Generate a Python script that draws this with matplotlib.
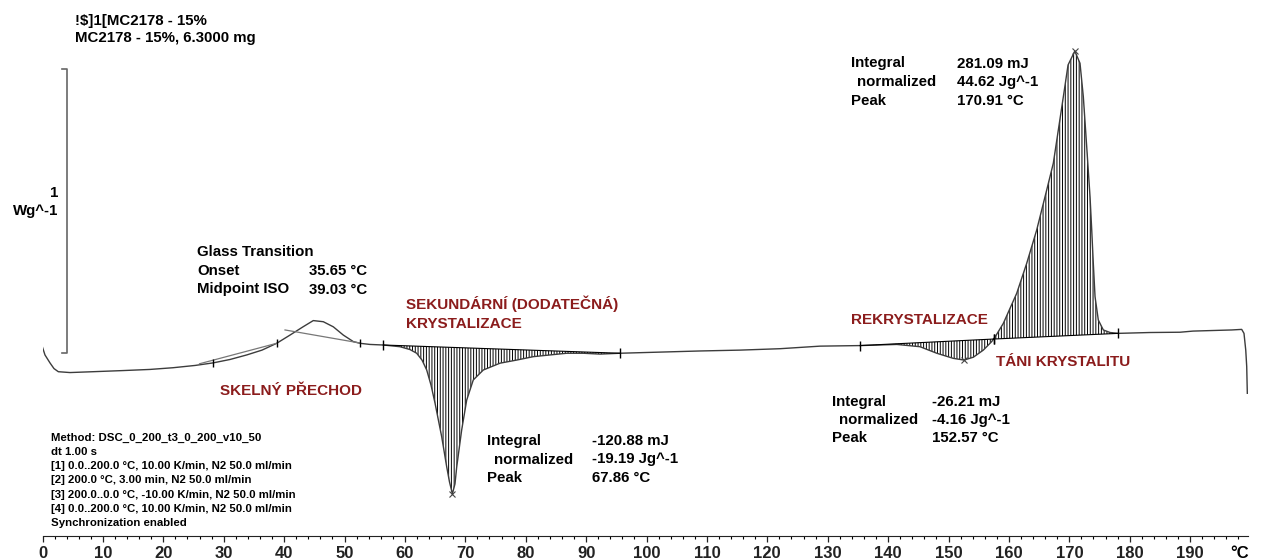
import matplotlib
matplotlib.use("Agg")
import matplotlib.pyplot as plt
import numpy as np

plt.rcParams["font.family"] = ["Liberation Sans", "DejaVu Sans"]
plt.rcParams["font.weight"] = "bold"
plt.rcParams["hatch.linewidth"] = 0.7

W, H = 1270, 560
DARK_RED = "#8b1c1c"
CURVE = "#3c3c3c"

# DSC curve, temperature in degC and heat flow in W/g (arbitrary offset)
temp = [0.0, 0.41, 1.24, 1.90, 2.62, 4.55, 8.36, 13.33, 17.80, 21.61, 25.25, 28.23,
        31.04, 33.81, 36.34, 38.77, 40.98, 43.13, 44.83, 46.49, 48.15, 49.80, 51.46,
        52.57, 54.22, 56.42, 59.19, 60.84, 61.95, 62.83, 63.61, 64.32, 64.98, 66.09,
        66.92, 67.38, 67.86, 68.29, 68.58, 69.40, 70.23, 71.32, 72.98, 75.75, 78.51,
        81.26, 84.02, 86.79, 89.54, 92.30, 95.61, 102.24, 108.86, 115.48, 122.11,
        128.73, 135.35, 141.44, 145.28, 148.05, 150.79, 152.57, 154.11, 155.76, 157.15,
        157.45, 157.70, 159.07, 161.29, 162.95, 164.60, 166.26, 167.35, 169.01, 169.79,
        170.91, 171.77, 172.32, 172.88, 173.43, 173.71, 173.97, 174.26, 174.80, 175.63,
        176.74, 178.11, 183.36, 188.33, 190.48, 196.89, 198.54, 198.92, 199.21, 199.37,
        199.47]
heat_flow = [-0.008, -0.035, -0.063, -0.083, -0.094, -0.097, -0.094, -0.090, -0.086,
             -0.080, -0.072, -0.063, -0.051, -0.035, -0.018, 0.006, 0.035, 0.064, 0.086,
             0.082, 0.064, 0.035, 0.012, 0.006, 0.002, 0.000, -0.006, -0.016, -0.029,
             -0.053, -0.088, -0.141, -0.204, -0.323, -0.429, -0.482, -0.524, -0.489,
             -0.429, -0.299, -0.194, -0.123, -0.088, -0.064, -0.053, -0.041, -0.035,
             -0.029, -0.029, -0.032, -0.029, -0.025, -0.021, -0.018, -0.013, -0.004,
             -0.002, 0.002, -0.006, -0.029, -0.047, -0.053, -0.043, -0.018, 0.012, 0.021,
             0.028, 0.076, 0.182, 0.288, 0.405, 0.546, 0.640, 0.874, 0.986, 1.035, 0.992,
             0.874, 0.698, 0.522, 0.405, 0.288, 0.170, 0.088, 0.053, 0.044, 0.041, 0.044,
             0.045, 0.049, 0.053, 0.055, 0.041, -0.018, -0.076, -0.170]

# integration limits (degC)
cryst_limits = (56.42, 95.61)
recryst_limits = (135.35, 157.45)
melt_limits = (157.45, 178.11)
peak_temps = [67.86, 152.57, 170.91]
gt_marks = [28.23, 38.77, 52.57]

# glass transition construction lines
gt_line1_t = [26.0, 38.77]
gt_line1_hf = [-0.066, 0.006]
gt_line2_t = [40.15, 52.57]
gt_line2_hf = [0.053, 0.007]

method_lines = [
    "Method: DSC_0_200_t3_0_200_v10_50",
    "dt 1.00 s",
    "[1] 0.0..200.0 \u00b0C, 10.00 K/min, N2 50.0 ml/min",
    "[2] 200.0 \u00b0C, 3.00 min, N2 50.0 ml/min",
    "[3] 200.0..0.0 \u00b0C, -10.00 K/min, N2 50.0 ml/min",
    "[4] 0.0..200.0 \u00b0C, 10.00 K/min, N2 50.0 ml/min",
    "Synchronization enabled",
]

T = np.array(temp)
HF = np.array(heat_flow)

fig = plt.figure(figsize=(W / 100, H / 100), dpi=100)
ax = fig.add_axes([42.5 / W, 24 / H, 1205 / W, 536 / H])
ax.set_xlim(0, 199.5)
ax.set_ylim(-0.6725, 1.2148)

ax.plot(T, HF, color=CURVE, lw=1.0)

# integration areas with vertical hatching
for lo, hi in [cryst_limits, recryst_limits, melt_limits]:
    b = np.interp([lo, hi], T, HF)
    base = np.interp(T, [lo, hi], b)
    mask = (T >= lo) & (T <= hi)
    ax.fill_between(T, HF, base, where=mask, facecolor="none", edgecolor="black",
                    hatch="||||||", linewidth=0)
    ax.plot([lo, hi], b, color="black", lw=0.8)
    ax.plot([lo, hi], b, ls="none", marker="|", ms=7, mew=1.0, color="black")

ax.plot(gt_line1_t, gt_line1_hf, color="#777777", lw=0.9)
ax.plot(gt_line2_t, gt_line2_hf, color="#777777", lw=0.9)
ax.plot(gt_marks, np.interp(gt_marks, T, HF), ls="none", marker="|", ms=6,
        mew=1.0, color="black")
ax.plot(peak_temps, np.interp(peak_temps, T, HF), ls="none", marker="x", ms=4,
        mew=0.8, color="#444444")

# 1 W/g scale bar
ax.plot([3.2, 4.0, 4.0, 3.2], [0.973, 0.973, -0.027, -0.027], color="#666666", lw=1.2)

for s in ["left", "top", "right"]:
    ax.spines[s].set_visible(False)
ax.spines["bottom"].set_color("#222222")
ax.set_yticks([])
ax.set_xticks(np.arange(0, 191, 10))
ax.set_xticks(np.arange(0, 200, 2), minor=True)
ax.tick_params(axis="x", which="major", direction="out", length=4, width=0.9,
               pad=3, labelsize=12, colors="#222222")
ax.tick_params(axis="x", which="minor", direction="out", length=2.3, width=0.8)
for lab in ax.get_xticklabels():
    lab.set_fontweight("bold")


def label(px, py, s, size=10.8, color="black", ha="left"):
    fig.text(px / W, 1 - py / H, s, fontsize=size, fontweight="bold", color=color,
             ha=ha, va="baseline")


label(1230, 558, "\u00b0C", size=12)

label(75, 24.5, "!$]1[MC2178 - 15%")
label(75, 42, "MC2178 - 15%, 6.3000 mg")
label(58, 197, "1", ha="right")
label(58, 214.5, "Wg^-1", ha="right")

label(197, 256, "Glass Transition")
label(197, 275, "Onset")
label(309, 275, "35.65 \u00b0C")
label(197, 293.5, "Midpoint ISO")
label(309, 293.5, "39.03 \u00b0C")

label(406, 308.5, "SEKUNDÁRNÍ (DODATEČNÁ)", size=11, color=DARK_RED)
label(406, 327.5, "KRYSTALIZACE", size=11, color=DARK_RED)
label(220, 395, "SKELNÝ PŘECHOD", size=11, color=DARK_RED)
label(851, 324, "REKRYSTALIZACE", size=11, color=DARK_RED)
label(996, 366, "TÁNI KRYSTALITU", size=11, color=DARK_RED)

label(487, 445, "Integral")
label(494, 463.5, "normalized")
label(487, 482.5, "Peak")
label(592, 445, "-120.88 mJ")
label(592, 463.5, "-19.19 Jg^-1")
label(592, 482.5, "67.86 \u00b0C")

label(832, 406, "Integral")
label(839, 424, "normalized")
label(832, 442.5, "Peak")
label(932, 406, "-26.21 mJ")
label(932, 424, "-4.16 Jg^-1")
label(932, 442.5, "152.57 \u00b0C")

label(851, 67.5, "Integral")
label(857, 86, "normalized")
label(851, 105, "Peak")
label(957, 67.5, "281.09 mJ")
label(957, 86, "44.62 Jg^-1")
label(957, 105, "170.91 \u00b0C")

for i, line in enumerate(method_lines):
    label(50.5, 440.7 + i * 14.25, line, size=8.2)

fig.savefig("out.png", dpi=100)
